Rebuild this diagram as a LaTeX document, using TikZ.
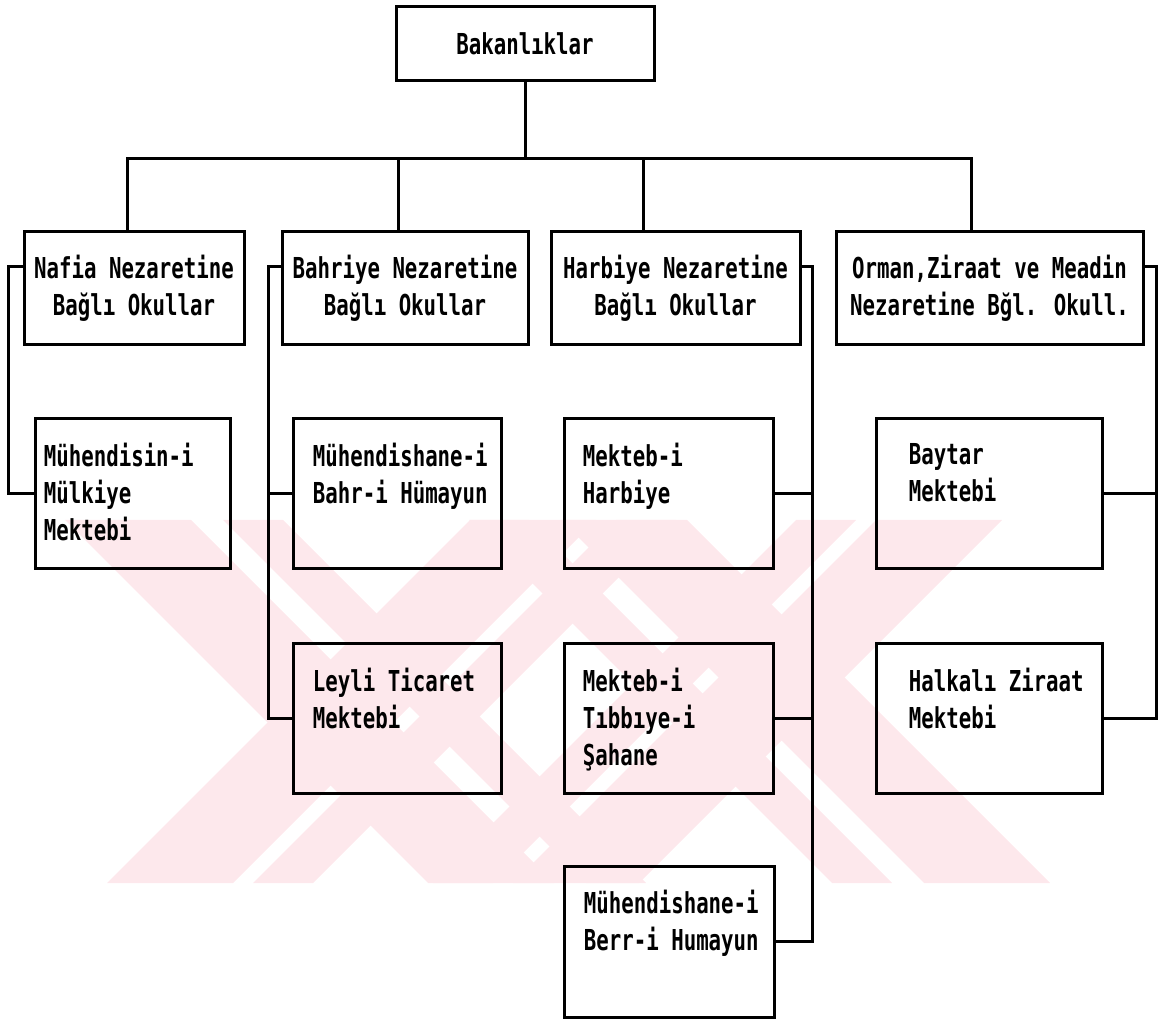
\documentclass[tikz,border=0pt]{standalone}
\usepackage{fontspec}
\newfontfamily\chartfont[FakeStretch=0.72]{DejaVu Sans Mono}
\usetikzlibrary{positioning}
\definecolor{wmpink}{RGB}{253,232,236}
\tikzset{
  box/.style={draw, line width=1.5pt, inner sep=0pt},
  ministry/.style={box, minimum height=56.5pt, align=center},
  school/.style={box, minimum height=75pt},
  schooltext/.style={anchor=north west, inner sep=0pt, align=left, yshift=-12.6pt},
  link/.style={line width=1.5pt}
}
\begin{document}
\begin{tikzpicture}[x=0.5pt, y=-0.5pt,
  every node/.append style={font=\chartfont\bfseries\fontsize{14.4pt}{18.6pt}\selectfont}]
  \useasboundingbox (0,0) rectangle (1158,1021);
  % watermark stripes
  \foreach \a/\b in {-455/-329, -297/-237, -51/9, 41/167}
    \fill[wmpink] ({520+\a},520) -- ({520+\b},520) -- ({883+\b},883) -- ({883+\a},883) -- cycle;
  \foreach \a/\b in {990/1116, 1136/1196, 1316/1376, 1396/1522}
    \fill[wmpink] ({\a-520},520) -- ({\b-520},520) -- ({\b-883},883) -- ({\a-883},883) -- cycle;
  % ministries
  \node[box, minimum width=129pt, minimum height=37pt] (top) at (525,44) {Bakanlıklar};
  \node[ministry, minimum width=110pt] (nafia) at (134,288.5) {Nafia Nezaretine\\Bağlı Okullar};
  \node[ministry, minimum width=123pt] (bahriye) at (405,288.5) {Bahriye Nezaretine\\Bağlı Okullar};
  \node[ministry, minimum width=124.5pt] (harbiye) at (675.5,288.5) {Harbiye Nezaretine\\Bağlı Okullar};
  \node[ministry, minimum width=153.5pt] (orman) at (989.5,288.5) {Orman,Ziraat ve Meadin\\Nezaretine Bğl. Okull.};
  % schools
  \node[school, minimum width=97.5pt] (muhmul) at (132.5,494) {};
  \node[school, minimum width=104pt] (muhbahr) at (397,494) {};
  \node[school, minimum width=104pt] (leyli) at (397,719) {};
  \node[school, minimum width=104.5pt] (harb) at (668.5,494) {};
  \node[school, minimum width=104.5pt] (tibbiye) at (668.5,719) {};
  \node[school, minimum width=105pt, minimum height=75.5pt] (berr) at (669,941.5) {};
  \node[school, minimum width=113pt] (baytar) at (989,494) {};
  \node[school, minimum width=113pt] (halkali) at (989,719) {};
  % school names
  \node[schooltext, xshift=5pt] (muhmultxt) at (muhmul.north west) {Mühendisin-i\\Mülkiye\\Mektebi};
  \node[schooltext, xshift=10.5pt] (muhbahrtxt) at (muhbahr.north west) {Mühendishane-i\\Bahr-i Hümayun};
  \node[schooltext, xshift=10.5pt] (leylitxt) at (leyli.north west) {Leyli Ticaret\\Mektebi};
  \node[schooltext, xshift=10pt] (harbtxt) at (harb.north west) {Mekteb-i\\Harbiye};
  \node[schooltext, xshift=10pt] (tibbiyetxt) at (tibbiye.north west) {Mekteb-i\\Tıbbıye-i\\Şahane};
  \node[schooltext, xshift=10.5pt] (berrtxt) at (berr.north west) {Mühendishane-i\\Berr-i Humayun};
  \node[schooltext, xshift=17pt] (baytartxt) at (baytar.north west) {Baytar\\Mektebi};
  \node[schooltext, xshift=17pt] (halkalitxt) at (halkali.north west) {Halkalı Ziraat\\Mektebi};
  % top tree
  \coordinate (bus) at ([yshift=-38pt]top.south);
  \draw[link] (top.south) -- (bus);
  \foreach \n/\dx in {nafia/-3.5pt, bahriye/-3.5pt, harbiye/-16.25pt, orman/-9.25pt}
    \draw[link] (bus) -| ([xshift=\dx]\n.north);
  % side brackets
  \draw[link] ([yshift=-18pt]nafia.north west) -- ++(-7pt,0) |- (muhmul.west);
  \draw[link] ([yshift=-18pt]bahriye.north west) -- ++(-6pt,0) coordinate (bahbus) |- (leyli.west);
  \draw[link] (muhbahr.west) -- (muhbahr.west -| bahbus);
  \draw[link] ([yshift=-18pt]harbiye.north east) -- ++(5.5pt,0) coordinate (harbus) |- (berr.east);
  \foreach \n in {harb,tibbiye} \draw[link] (\n.east) -- (\n.east -| harbus);
  \draw[link] ([yshift=-18pt]orman.north east) -- ++(6pt,0) coordinate (ormbus) |- (halkali.east);
  \draw[link] (baytar.east) -- (baytar.east -| ormbus);
\end{tikzpicture}
\end{document}
